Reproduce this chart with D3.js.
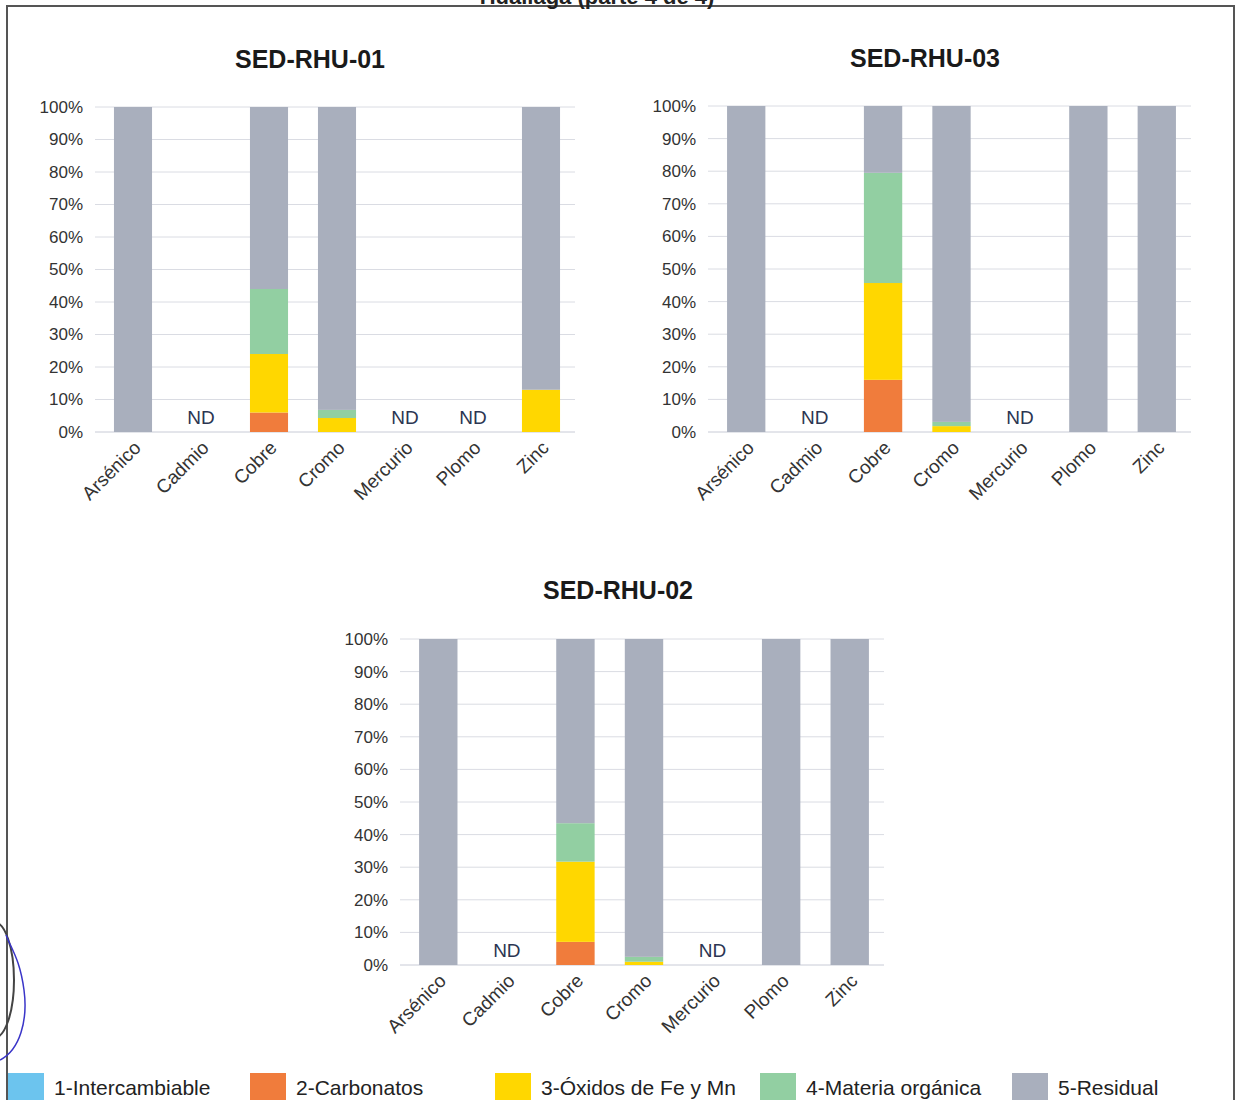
<!DOCTYPE html>
<html>
<head>
<meta charset="utf-8">
<script src="https://cdn.jsdelivr.net/npm/d3@7"></script>
<style>
  html, body { margin: 0; padding: 0; background: #fff; }
  svg { display: block; font-family: "Liberation Sans", Arial, sans-serif; }
</style>
</head>
<body>
<svg id="chart" width="1236" height="1100"></svg>
<script>
// ---------- DATA ----------
const categories = ["Arsénico", "Cadmio", "Cobre", "Cromo", "Mercurio", "Plomo", "Zinc"];
const fractions = ["1-Intercambiable", "2-Carbonatos", "3-Óxidos de Fe y Mn", "4-Materia orgánica", "5-Residual"];
const yTicks = [0, 10, 20, 30, 40, 50, 60, 70, 80, 90, 100];

// SED-RHU-01 (% per fraction, by category)
const rhu01Intercambiable = [0, 0, 0, 0, 0, 0, 0];
const rhu01Carbonatos     = [0, 0, 6, 0, 0, 0, 0];
const rhu01Oxidos         = [0, 0, 18, 4.3, 0, 0, 13];
const rhu01Materia        = [0, 0, 20, 2.5, 0, 0, 0];
const rhu01Residual       = [100, 0, 56, 93.2, 0, 0, 87];
const rhu01ND             = ["Cadmio", "Mercurio", "Plomo"];

// SED-RHU-03
const rhu03Intercambiable = [0, 0, 0, 0, 0, 0, 0];
const rhu03Carbonatos     = [0, 0, 16, 0, 0, 0, 0];
const rhu03Oxidos         = [0, 0, 29.7, 1.8, 0, 0, 0];
const rhu03Materia        = [0, 0, 33.8, 1.3, 0, 0, 0];
const rhu03Residual       = [100, 0, 20.5, 96.9, 0, 100, 100];
const rhu03ND             = ["Cadmio", "Mercurio"];

// SED-RHU-02
const rhu02Intercambiable = [0, 0, 0, 0, 0, 0, 0];
const rhu02Carbonatos     = [0, 0, 7.1, 0, 0, 0, 0];
const rhu02Oxidos         = [0, 0, 24.6, 1, 0, 0, 0];
const rhu02Materia        = [0, 0, 11.8, 1.5, 0, 0, 0];
const rhu02Residual       = [100, 0, 56.5, 97.5, 0, 100, 100];
const rhu02ND             = ["Cadmio", "Mercurio"];

const colors = ["#6cc4ee", "#f07c3c", "#ffd700", "#92cfa2", "#a9afbd"];

// ---------- LAYOUT ----------
const svg = d3.select("#chart");

// page frame
svg.append("rect").attr("x", 7).attr("y", 6).attr("width", 1227).attr("height", 1110)
  .attr("fill", "none").attr("stroke", "#555").attr("stroke-width", 2);
svg.append("text").attr("x", 597).attr("y", 4).attr("text-anchor", "middle")
  .attr("font-size", 22).attr("font-weight", "bold").attr("fill", "#222")
  .text("Huallaga (parte 4 de 4)");

const panels = [
  { title: "SED-RHU-01", tx: 310, ty: 68, left: 99, right: 575, top: 107, bottom: 432,
    series: [rhu01Intercambiable, rhu01Carbonatos, rhu01Oxidos, rhu01Materia, rhu01Residual], nd: rhu01ND },
  { title: "SED-RHU-03", tx: 925, ty: 67, left: 712, right: 1191, top: 106, bottom: 432,
    series: [rhu03Intercambiable, rhu03Carbonatos, rhu03Oxidos, rhu03Materia, rhu03Residual], nd: rhu03ND },
  { title: "SED-RHU-02", tx: 618, ty: 599, left: 404, right: 884, top: 639, bottom: 965,
    series: [rhu02Intercambiable, rhu02Carbonatos, rhu02Oxidos, rhu02Materia, rhu02Residual], nd: rhu02ND }
];

panels.forEach(p => {
  const g = svg.append("g");
  const x = d3.scaleBand().domain(categories).range([p.left, p.right])
    .paddingInner(0.44).paddingOuter(0.22);
  const y = d3.scaleLinear().domain([0, 100]).range([p.bottom, p.top]);

  g.append("text").attr("x", p.tx).attr("y", p.ty).attr("text-anchor", "middle")
    .attr("font-size", 25).attr("font-weight", "bold").attr("fill", "#1a1a1a")
    .text(p.title);

  // gridlines
  g.selectAll(".grid").data(yTicks).join("line")
    .attr("x1", p.left - 4).attr("x2", p.right)
    .attr("y1", d => y(d)).attr("y2", d => y(d))
    .attr("stroke", d => d === 0 ? "#c8cbd6" : "#dadce3").attr("stroke-width", 1);

  // y axis labels
  const yAxis = d3.axisLeft(y).tickValues(yTicks).tickFormat(d => d + "%").tickSize(0).tickPadding(16);
  const ya = g.append("g").attr("transform", `translate(${p.left},0)`).call(yAxis);
  ya.select(".domain").remove();
  ya.selectAll("text").attr("font-size", 17).attr("fill", "#333")
    .attr("font-family", "'Liberation Sans', Arial, sans-serif");

  // stacked bars
  const rows = categories.map((c, i) => {
    const r = { cat: c };
    fractions.forEach((f, k) => r[f] = p.series[k][i]);
    return r;
  });
  const stack = d3.stack().keys(fractions)(rows);
  stack.forEach((layer, k) => {
    g.append("g").attr("fill", colors[k]).selectAll("rect")
      .data(layer.filter(d => d[1] - d[0] > 0)).join("rect")
      .attr("x", d => x(d.data.cat)).attr("width", x.bandwidth())
      .attr("y", d => y(d[1])).attr("height", d => y(d[0]) - y(d[1]));
  });

  // ND labels
  g.selectAll(".nd").data(p.nd).join("text")
    .attr("x", d => x(d) + x.bandwidth() / 2).attr("y", p.bottom - 8)
    .attr("text-anchor", "middle").attr("font-size", 19).attr("fill", "#2b3552")
    .text("ND");

  // x axis labels
  const xAxis = d3.axisBottom(x).tickSize(0).tickPadding(0);
  const xa = g.append("g").attr("transform", `translate(0,${p.bottom})`).call(xAxis);
  xa.select(".domain").remove();
  xa.selectAll("text")
    .attr("font-size", 19).attr("fill", "#333")
    .attr("font-family", "'Liberation Sans', Arial, sans-serif")
    .attr("text-anchor", "end").attr("dy", 0)
    .attr("transform", "translate(9,17) rotate(-45)");
});

// legend
const legendX = [8, 250, 495, 760, 1012];
const legend = svg.append("g");
fractions.forEach((f, k) => {
  legend.append("rect").attr("x", legendX[k]).attr("y", 1073).attr("width", 36).attr("height", 30)
    .attr("fill", colors[k]);
  legend.append("text").attr("x", legendX[k] + 46).attr("y", 1095)
    .attr("font-size", 21).attr("fill", "#222").text(f);
});

// stamp & signature traces at left edge
svg.append("ellipse").attr("cx", -6).attr("cy", 980).attr("rx", 20).attr("ry", 58)
  .attr("fill", "none").attr("stroke", "#444").attr("stroke-width", 2);
svg.append("path").attr("d", "M0,1060 C20,1050 28,1020 24,990 C20,960 12,950 6,935")
  .attr("fill", "none").attr("stroke", "#3a35c8").attr("stroke-width", 1.5);
</script>
</body>
</html>
